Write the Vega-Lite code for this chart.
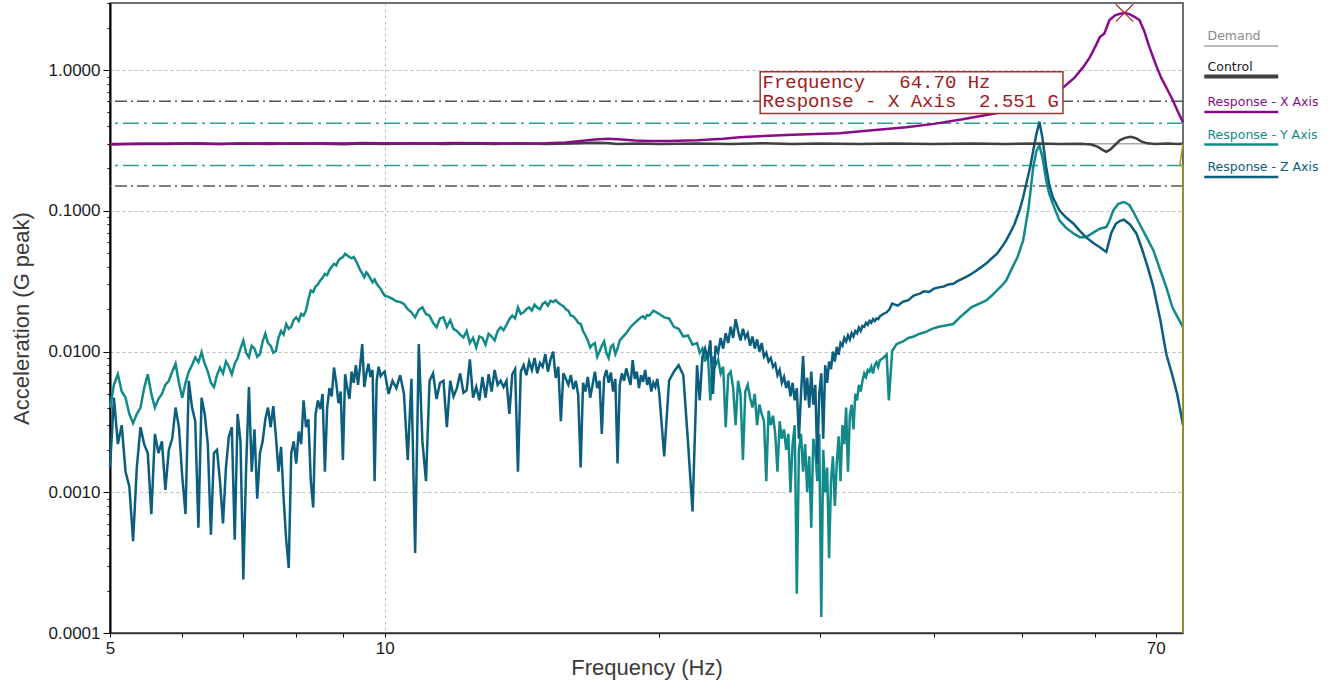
{
  "$schema": "https://vega.github.io/schema/vega-lite/v6.json",
  "width": 1073,
  "height": 630,
  "autosize": {"type": "none"},
  "padding": {"left": 110, "top": 3, "right": 155, "bottom": 56},
  "background": "white",
  "config": {
    "view": {"stroke": "#404040", "strokeWidth": 1.5},
    "axis": {
      "labelFont": "Liberation Sans", "titleFont": "Liberation Sans",
      "labelFontSize": 17, "titleFontSize": 22, "titleFontWeight": "normal",
      "labelColor": "#1a1a1a", "titleColor": "#3a3a3a",
      "domainColor": "#000000", "tickColor": "#000000",
      "gridColor": "#bdbdbd", "gridDash": [3, 3], "gridWidth": 1
    }
  },
  "datasets": {
    "limits": [
      {"g": 0.6, "kind": "abort"}, {"g": 0.15, "kind": "abort"},
      {"g": 0.42, "kind": "alarm"}, {"g": 0.21, "kind": "alarm"}
    ],
    "demand": [{"hz": 5, "g": 0.3}, {"hz": 75, "g": 0.3}],
    "control": [
      {"hz":5,"g":0.296},{"hz":5.4,"g":0.3},{"hz":5.8,"g":0.298},{"hz":6.2,"g":0.302},{"hz":6.6,"g":0.299},{"hz":7,"g":0.301},{"hz":7.5,"g":0.298},{"hz":8,"g":0.302},{"hz":8.5,"g":0.3},{"hz":9,"g":0.297},{"hz":9.5,"g":0.301},{"hz":10,"g":0.299},{"hz":10.8,"g":0.302},{"hz":11.6,"g":0.298},{"hz":12.4,"g":0.301},{"hz":13.2,"g":0.299},{"hz":14,"g":0.302},{"hz":15,"g":0.298},{"hz":16,"g":0.301},{"hz":17,"g":0.305},{"hz":17.5,"g":0.303},{"hz":18,"g":0.299},{"hz":19,"g":0.301},{"hz":20,"g":0.298},{"hz":22,"g":0.301},{"hz":24,"g":0.299},{"hz":26,"g":0.302},{"hz":28,"g":0.299},{"hz":30,"g":0.301},{"hz":33,"g":0.298},{"hz":36,"g":0.301},{"hz":40,"g":0.299},{"hz":44,"g":0.301},{"hz":48,"g":0.299},{"hz":52,"g":0.301},{"hz":55,"g":0.299},{"hz":58,"g":0.3},{"hz":59.5,"g":0.296},{"hz":60.5,"g":0.285},{"hz":61.3,"g":0.27},{"hz":61.8,"g":0.263},{"hz":62.4,"g":0.272},{"hz":63.2,"g":0.295},{"hz":64,"g":0.318},{"hz":64.8,"g":0.33},{"hz":65.7,"g":0.336},{"hz":66.6,"g":0.328},{"hz":67.5,"g":0.312},{"hz":68.5,"g":0.302},{"hz":70,"g":0.299},{"hz":72,"g":0.301},{"hz":74,"g":0.299},{"hz":75,"g":0.3}
    ],
    "respX": [
      {"hz":5,"g":0.298},{"hz":5.5,"g":0.3},{"hz":6,"g":0.301},{"hz":6.5,"g":0.299},{"hz":7,"g":0.301},{"hz":7.5,"g":0.302},{"hz":8,"g":0.3},{"hz":8.5,"g":0.302},{"hz":9,"g":0.301},{"hz":9.5,"g":0.303},{"hz":10,"g":0.302},{"hz":11,"g":0.301},{"hz":12,"g":0.303},{"hz":13,"g":0.302},{"hz":14,"g":0.301},{"hz":15,"g":0.302},{"hz":15.8,"g":0.306},{"hz":16.4,"g":0.314},{"hz":17,"g":0.322},{"hz":17.6,"g":0.326},{"hz":18.2,"g":0.322},{"hz":18.8,"g":0.316},{"hz":19.5,"g":0.313},{"hz":20.5,"g":0.314},{"hz":22,"g":0.318},{"hz":23.5,"g":0.325},{"hz":24.5,"g":0.333},{"hz":26,"g":0.34},{"hz":28,"g":0.348},{"hz":31.5,"g":0.356},{"hz":34,"g":0.372},{"hz":37.3,"g":0.393},{"hz":40,"g":0.415},{"hz":43,"g":0.447},{"hz":46.8,"g":0.494},{"hz":49,"g":0.54},{"hz":51,"g":0.59},{"hz":53,"g":0.655},{"hz":55.3,"g":0.745},{"hz":57,"g":0.88},{"hz":58.3,"g":1.05},{"hz":59.3,"g":1.237},{"hz":60.2,"g":1.5},{"hz":60.8,"g":1.717},{"hz":61.5,"g":1.82},{"hz":62.3,"g":2.27},{"hz":63.2,"g":2.45},{"hz":64,"g":2.52},{"hz":64.7,"g":2.551},{"hz":65.5,"g":2.5},{"hz":66.3,"g":2.4},{"hz":67.2,"g":2.27},{"hz":68,"g":1.9},{"hz":68.8,"g":1.5},{"hz":69.5,"g":1.25},{"hz":70.2,"g":1.05},{"hz":71,"g":0.88},{"hz":72,"g":0.74},{"hz":73.1,"g":0.611},{"hz":74,"g":0.51},{"hz":75,"g":0.427}
    ],
    "respY": [
      {"hz":5,"g":0.004},{"hz":5.05,"g":0.0058},{"hz":5.1,"g":0.0069},{"hz":5.15,"g":0.0052},{"hz":5.2,"g":0.0047},{"hz":5.25,"g":0.0036},{"hz":5.3,"g":0.0031},{"hz":5.35,"g":0.0036},{"hz":5.4,"g":0.004},{"hz":5.45,"g":0.0055},{"hz":5.5,"g":0.0069},{"hz":5.55,"g":0.005},{"hz":5.6,"g":0.004},{"hz":5.65,"g":0.0046},{"hz":5.7,"g":0.005},{"hz":5.75,"g":0.0058},{"hz":5.8,"g":0.0062},{"hz":5.85,"g":0.0072},{"hz":5.9,"g":0.0082},{"hz":5.95,"g":0.006},{"hz":6,"g":0.0047},{"hz":6.05,"g":0.006},{"hz":6.1,"g":0.0072},{"hz":6.15,"g":0.008},{"hz":6.2,"g":0.0091},{"hz":6.25,"g":0.0084},{"hz":6.3,"g":0.0099},{"hz":6.35,"g":0.0082},{"hz":6.4,"g":0.0072},{"hz":6.45,"g":0.006},{"hz":6.5,"g":0.0056},{"hz":6.55,"g":0.0068},{"hz":6.6,"g":0.0077},{"hz":6.65,"g":0.007},{"hz":6.7,"g":0.0085},{"hz":6.75,"g":0.0078},{"hz":6.8,"g":0.0069},{"hz":6.85,"g":0.0082},{"hz":6.9,"g":0.009},{"hz":6.95,"g":0.0105},{"hz":7,"g":0.012},{"hz":7.05,"g":0.0098},{"hz":7.1,"g":0.0091},{"hz":7.15,"g":0.011},{"hz":7.2,"g":0.0105},{"hz":7.25,"g":0.0092},{"hz":7.3,"g":0.0096},{"hz":7.35,"g":0.0118},{"hz":7.4,"g":0.0134},{"hz":7.45,"g":0.0115},{"hz":7.5,"g":0.011},{"hz":7.55,"g":0.0098},{"hz":7.6,"g":0.0101},{"hz":7.65,"g":0.0125},{"hz":7.7,"g":0.014},{"hz":7.75,"g":0.0132},{"hz":7.8,"g":0.0157},{"hz":7.85,"g":0.0145},{"hz":7.9,"g":0.015},{"hz":7.95,"g":0.0168},{"hz":8,"g":0.0175},{"hz":8.05,"g":0.0165},{"hz":8.1,"g":0.0185},{"hz":8.15,"g":0.018},{"hz":8.2,"g":0.0196},{"hz":8.25,"g":0.0235},{"hz":8.3,"g":0.0272},{"hz":8.35,"g":0.0265},{"hz":8.4,"g":0.029},{"hz":8.45,"g":0.03},{"hz":8.5,"g":0.032},{"hz":8.55,"g":0.0335},{"hz":8.6,"g":0.0357},{"hz":8.65,"g":0.035},{"hz":8.7,"g":0.038},{"hz":8.75,"g":0.04},{"hz":8.8,"g":0.042},{"hz":8.85,"g":0.041},{"hz":8.9,"g":0.0444},{"hz":8.95,"g":0.046},{"hz":9,"g":0.047},{"hz":9.05,"g":0.0495},{"hz":9.1,"g":0.0482},{"hz":9.15,"g":0.047},{"hz":9.2,"g":0.046},{"hz":9.25,"g":0.047},{"hz":9.3,"g":0.0444},{"hz":9.35,"g":0.041},{"hz":9.4,"g":0.038},{"hz":9.45,"g":0.036},{"hz":9.5,"g":0.0338},{"hz":9.55,"g":0.0365},{"hz":9.6,"g":0.035},{"hz":9.65,"g":0.033},{"hz":9.7,"g":0.031},{"hz":9.75,"g":0.0325},{"hz":9.8,"g":0.0303},{"hz":9.85,"g":0.029},{"hz":9.9,"g":0.028},{"hz":9.95,"g":0.0262},{"hz":10,"g":0.025},
      {"hz":10.1,"g":0.0245},{"hz":10.2,"g":0.0237},{"hz":10.3,"g":0.0228},{"hz":10.4,"g":0.0225},{"hz":10.5,"g":0.0218},{"hz":10.6,"g":0.02},{"hz":10.7,"g":0.019},{"hz":10.8,"g":0.0175},{"hz":10.9,"g":0.0198},{"hz":11,"g":0.0206},{"hz":11.1,"g":0.0185},{"hz":11.2,"g":0.018},{"hz":11.3,"g":0.016},{"hz":11.4,"g":0.0149},{"hz":11.5,"g":0.0172},{"hz":11.6,"g":0.0175},{"hz":11.7,"g":0.015},{"hz":11.8,"g":0.0167},{"hz":11.9,"g":0.0145},{"hz":12,"g":0.014},{"hz":12.1,"g":0.0132},{"hz":12.2,"g":0.0126},{"hz":12.3,"g":0.014},{"hz":12.4,"g":0.0115},{"hz":12.5,"g":0.0125},{"hz":12.6,"g":0.0107},{"hz":12.7,"g":0.0128},{"hz":12.8,"g":0.0125},{"hz":12.9,"g":0.0112},{"hz":13,"g":0.0134},{"hz":13.1,"g":0.0128},{"hz":13.2,"g":0.012},{"hz":13.3,"g":0.014},{"hz":13.4,"g":0.0149},{"hz":13.5,"g":0.0142},{"hz":13.6,"g":0.0155},{"hz":13.7,"g":0.017},{"hz":13.8,"g":0.018},{"hz":13.9,"g":0.0172},{"hz":14,"g":0.0206},{"hz":14.1,"g":0.0185},{"hz":14.2,"g":0.019},{"hz":14.3,"g":0.02},{"hz":14.4,"g":0.0206},{"hz":14.5,"g":0.0196},{"hz":14.6,"g":0.0215},{"hz":14.7,"g":0.0205},{"hz":14.8,"g":0.02},{"hz":14.9,"g":0.0218},{"hz":15,"g":0.0225},{"hz":15.1,"g":0.0212},{"hz":15.2,"g":0.023},{"hz":15.3,"g":0.0225},{"hz":15.4,"g":0.0232},{"hz":15.5,"g":0.0222},{"hz":15.6,"g":0.0215},{"hz":15.7,"g":0.021},{"hz":15.8,"g":0.02},{"hz":15.9,"g":0.0195},{"hz":16,"g":0.018},{"hz":16.1,"g":0.0178},{"hz":16.2,"g":0.017},{"hz":16.3,"g":0.016},{"hz":16.4,"g":0.0157},{"hz":16.5,"g":0.014},{"hz":16.6,"g":0.013},{"hz":16.7,"g":0.012},{"hz":16.8,"g":0.0107},{"hz":16.9,"g":0.0112},{"hz":17,"g":0.0115},{"hz":17.1,"g":0.0092},{"hz":17.2,"g":0.01},{"hz":17.3,"g":0.011},{"hz":17.4,"g":0.0118},{"hz":17.5,"g":0.0098},{"hz":17.6,"g":0.009},{"hz":17.7,"g":0.0108},{"hz":17.8,"g":0.0112},{"hz":17.9,"g":0.0096},{"hz":18,"g":0.0105},{"hz":18.1,"g":0.012},{"hz":18.2,"g":0.0125},{"hz":18.3,"g":0.013},{"hz":18.4,"g":0.0135},{"hz":18.5,"g":0.0142},{"hz":18.6,"g":0.0149},{"hz":18.7,"g":0.0155},{"hz":18.8,"g":0.016},{"hz":18.9,"g":0.0165},{"hz":19,"g":0.017},{"hz":19.1,"g":0.0175},{"hz":19.2,"g":0.0178},{"hz":19.3,"g":0.0172},{"hz":19.4,"g":0.0182},{"hz":19.5,"g":0.018},{"hz":19.6,"g":0.0187},{"hz":19.7,"g":0.0195},{"hz":19.8,"g":0.0192},{"hz":19.9,"g":0.0188},{"hz":20,"g":0.0185},
      {"hz":20.25,"g":0.0175},{"hz":20.5,"g":0.0172},{"hz":20.75,"g":0.015},{"hz":21,"g":0.0145},{"hz":21.25,"g":0.0128},{"hz":21.5,"g":0.013},{"hz":21.75,"g":0.0112},
      {"hz":22,"g":0.0115},{"hz":22.15,"g":0.0098},{"hz":22.3,"g":0.0105},{"hz":22.45,"g":0.0085},{"hz":22.6,"g":0.01},{"hz":22.75,"g":0.0045},{"hz":22.9,"g":0.0092},{"hz":23.05,"g":0.008},{"hz":23.2,"g":0.0088},{"hz":23.35,"g":0.007},{"hz":23.5,"g":0.0078},{"hz":23.65,"g":0.0029},{"hz":23.8,"g":0.0068},{"hz":23.95,"g":0.0072},{"hz":24.1,"g":0.0055},{"hz":24.25,"g":0.003},{"hz":24.4,"g":0.0062},{"hz":24.55,"g":0.005},{"hz":24.7,"g":0.0017},{"hz":24.85,"g":0.0052},{"hz":25,"g":0.0058},{"hz":25.15,"g":0.0047},{"hz":25.3,"g":0.004},{"hz":25.45,"g":0.005},{"hz":25.6,"g":0.003},{"hz":25.75,"g":0.0042},{"hz":25.9,"g":0.0036},{"hz":26.05,"g":0.0032},{"hz":26.2,"g":0.0012},{"hz":26.35,"g":0.0038},{"hz":26.5,"g":0.003},{"hz":26.65,"g":0.0035},{"hz":26.8,"g":0.0026},{"hz":26.95,"g":0.0014},{"hz":27.1,"g":0.0032},{"hz":27.25,"g":0.0024},{"hz":27.4,"g":0.0028},{"hz":27.55,"g":0.002},{"hz":27.7,"g":0.0026},{"hz":27.85,"g":0.001},{"hz":28,"g":0.0022},{"hz":28.15,"g":0.003},{"hz":28.3,"g":0.00019},{"hz":28.45,"g":0.002},{"hz":28.6,"g":0.0026},{"hz":28.75,"g":0.0014},{"hz":28.9,"g":0.0022},{"hz":29.05,"g":0.001},{"hz":29.2,"g":0.0018},{"hz":29.35,"g":0.00056},{"hz":29.5,"g":0.0024},{"hz":29.65,"g":0.002},{"hz":29.8,"g":0.0012},{"hz":29.95,"g":0.0026},{"hz":30.1,"g":0.00013},{"hz":30.25,"g":0.002},{"hz":30.4,"g":0.001},{"hz":30.55,"g":0.0015},{"hz":30.7,"g":0.00034},{"hz":30.85,"g":0.0012},{"hz":31,"g":0.0018},{"hz":31.15,"g":0.0008},{"hz":31.3,"g":0.0016},{"hz":31.45,"g":0.0025},{"hz":31.6,"g":0.0012},{"hz":31.75,"g":0.003},{"hz":31.9,"g":0.0022},{"hz":32.05,"g":0.004},{"hz":32.2,"g":0.0014},{"hz":32.35,"g":0.0035},{"hz":32.5,"g":0.0042},{"hz":32.65,"g":0.0028},{"hz":32.8,"g":0.005},{"hz":32.95,"g":0.0045},{"hz":33.1,"g":0.0058},{"hz":33.25,"g":0.0052},{"hz":33.4,"g":0.0062},{"hz":33.55,"g":0.007},{"hz":33.7,"g":0.0066},{"hz":33.85,"g":0.0074},{"hz":34,"g":0.0072},{"hz":34.15,"g":0.0078},{"hz":34.3,"g":0.007},{"hz":34.45,"g":0.008},{"hz":34.6,"g":0.0084},{"hz":34.75,"g":0.0078},{"hz":34.9,"g":0.0087},{"hz":35.2,"g":0.009},{"hz":35.5,"g":0.0095},{"hz":35.7,"g":0.0045},{"hz":36,"g":0.0101},
      {"hz":36.4,"g":0.0113},{"hz":37,"g":0.0118},{"hz":37.5,"g":0.0125},{"hz":38,"g":0.0128},{"hz":38.6,"g":0.0134},{"hz":39.2,"g":0.0138},{"hz":39.8,"g":0.0145},{"hz":40.5,"g":0.015},{"hz":41.2,"g":0.0153},{"hz":42,"g":0.0157},{"hz":42.7,"g":0.0175},{"hz":43.4,"g":0.0192},{"hz":44,"g":0.0207},{"hz":44.8,"g":0.0218},{"hz":45.6,"g":0.023},{"hz":46.3,"g":0.025},{"hz":46.9,"g":0.0272},{"hz":47.5,"g":0.0295},{"hz":48,"g":0.032},{"hz":48.7,"g":0.039},{"hz":49.4,"g":0.047},{"hz":50.1,"g":0.0617},{"hz":50.8,"g":0.106},{"hz":51.4,"g":0.205},{"hz":51.8,"g":0.265},{"hz":52.2,"g":0.292},{"hz":52.6,"g":0.24},{"hz":53.1,"g":0.165},{"hz":53.5,"g":0.133},{"hz":54,"g":0.112},{"hz":54.9,"g":0.0856},{"hz":55.8,"g":0.076},{"hz":56.9,"g":0.069},{"hz":57.8,"g":0.065},{"hz":58.7,"g":0.065},{"hz":59.8,"g":0.07},{"hz":60.8,"g":0.0746},{"hz":61.8,"g":0.0767},{"hz":62.3,"g":0.085},{"hz":62.9,"g":0.101},{"hz":63.7,"g":0.112},{"hz":64.6,"g":0.1156},{"hz":65.5,"g":0.11},{"hz":66.2,"g":0.098},{"hz":67.2,"g":0.081},{"hz":68.4,"g":0.065},{"hz":69.6,"g":0.0523},{"hz":70.8,"g":0.038},{"hz":71.9,"g":0.0287},{"hz":73,"g":0.0207},{"hz":74,"g":0.0175},{"hz":75,"g":0.0149}
    ],
    "respZ": [
      {"hz":5,"g":0.0015},{"hz":5.05,"g":0.0047},{"hz":5.1,"g":0.0022},{"hz":5.15,"g":0.003},{"hz":5.2,"g":0.0014},{"hz":5.25,"g":0.0011},{"hz":5.3,"g":0.00045},{"hz":5.35,"g":0.0015},{"hz":5.4,"g":0.0029},{"hz":5.45,"g":0.0022},{"hz":5.5,"g":0.0019},{"hz":5.55,"g":0.0007},{"hz":5.6,"g":0.0026},{"hz":5.65,"g":0.0019},{"hz":5.7,"g":0.0023},{"hz":5.75,"g":0.00104},{"hz":5.8,"g":0.002},{"hz":5.85,"g":0.0024},{"hz":5.9,"g":0.004},{"hz":5.95,"g":0.0029},{"hz":6,"g":0.0013},{"hz":6.05,"g":0.0007},{"hz":6.1,"g":0.0062},{"hz":6.15,"g":0.004},{"hz":6.2,"g":0.0032},{"hz":6.25,"g":0.00056},{"hz":6.3,"g":0.0047},{"hz":6.35,"g":0.0036},{"hz":6.4,"g":0.0022},{"hz":6.45,"g":0.0005},{"hz":6.5,"g":0.0019},{"hz":6.55,"g":0.002},{"hz":6.6,"g":0.0012},{"hz":6.65,"g":0.0006},{"hz":6.7,"g":0.0015},{"hz":6.75,"g":0.0025},{"hz":6.8,"g":0.0029},{"hz":6.85,"g":0.00046},{"hz":6.9,"g":0.0036},{"hz":6.95,"g":0.0023},{"hz":7,"g":0.00024},{"hz":7.05,"g":0.0015},{"hz":7.1,"g":0.0056},{"hz":7.15,"g":0.0014},{"hz":7.2,"g":0.0028},{"hz":7.25,"g":0.0009},{"hz":7.3,"g":0.0019},{"hz":7.35,"g":0.0023},{"hz":7.4,"g":0.0033},{"hz":7.45,"g":0.004},{"hz":7.5,"g":0.0029},{"hz":7.55,"g":0.0041},{"hz":7.6,"g":0.0025},{"hz":7.65,"g":0.0014},{"hz":7.7,"g":0.0021},{"hz":7.75,"g":0.0009},{"hz":7.8,"g":0.00046},{"hz":7.85,"g":0.00029},{"hz":7.9,"g":0.0019},{"hz":7.95,"g":0.0023},{"hz":8,"g":0.0016},{"hz":8.05,"g":0.0027},{"hz":8.1,"g":0.0022},{"hz":8.15,"g":0.0045},{"hz":8.2,"g":0.0029},{"hz":8.25,"g":0.0033},{"hz":8.3,"g":0.0012},{"hz":8.35,"g":0.00078},{"hz":8.4,"g":0.0036},{"hz":8.45,"g":0.0045},{"hz":8.5,"g":0.0039},{"hz":8.55,"g":0.005},{"hz":8.6,"g":0.0014},{"hz":8.65,"g":0.004},{"hz":8.7,"g":0.0055},{"hz":8.75,"g":0.0048},{"hz":8.8,"g":0.0077},{"hz":8.85,"g":0.006},{"hz":8.9,"g":0.0043},{"hz":8.95,"g":0.0052},{"hz":9,"g":0.0017},{"hz":9.05,"g":0.0069},{"hz":9.1,"g":0.0055},{"hz":9.15,"g":0.0046},{"hz":9.2,"g":0.0072},{"hz":9.25,"g":0.006},{"hz":9.3,"g":0.008},{"hz":9.35,"g":0.0058},{"hz":9.4,"g":0.0079},{"hz":9.45,"g":0.0113},{"hz":9.5,"g":0.0056},{"hz":9.55,"g":0.007},{"hz":9.6,"g":0.0082},{"hz":9.65,"g":0.0066},{"hz":9.7,"g":0.0074},{"hz":9.75,"g":0.0012},{"hz":9.8,"g":0.0062},{"hz":9.85,"g":0.0078},{"hz":9.9,"g":0.0067},{"hz":9.95,"g":0.007},{"hz":10,"g":0.0072},
      {"hz":10.1,"g":0.005},{"hz":10.2,"g":0.0062},{"hz":10.3,"g":0.0055},{"hz":10.4,"g":0.0068},{"hz":10.5,"g":0.005},{"hz":10.6,"g":0.0017},{"hz":10.7,"g":0.0064},{"hz":10.8,"g":0.00037},{"hz":10.9,"g":0.0113},{"hz":11,"g":0.0023},{"hz":11.1,"g":0.0012},{"hz":11.2,"g":0.0062},{"hz":11.3,"g":0.007},{"hz":11.4,"g":0.0046},{"hz":11.5,"g":0.006},{"hz":11.6,"g":0.0062},{"hz":11.7,"g":0.0029},{"hz":11.8,"g":0.0062},{"hz":11.9,"g":0.0048},{"hz":12,"g":0.0055},{"hz":12.1,"g":0.007},{"hz":12.2,"g":0.0051},{"hz":12.3,"g":0.0053},{"hz":12.4,"g":0.0088},{"hz":12.5,"g":0.0047},{"hz":12.6,"g":0.0056},{"hz":12.7,"g":0.0045},{"hz":12.8,"g":0.0066},{"hz":12.9,"g":0.0047},{"hz":13,"g":0.0069},{"hz":13.1,"g":0.0052},{"hz":13.2,"g":0.0074},{"hz":13.3,"g":0.0058},{"hz":13.4,"g":0.0062},
      {"hz":13.5,"g":0.0056},{"hz":13.6,"g":0.0062},{"hz":13.7,"g":0.0036},{"hz":13.8,"g":0.0069},{"hz":13.9,"g":0.0075},{"hz":14,"g":0.0014},{"hz":14.1,"g":0.0072},{"hz":14.2,"g":0.008},{"hz":14.3,"g":0.0068},{"hz":14.4,"g":0.0085},{"hz":14.5,"g":0.0074},{"hz":14.6,"g":0.009},{"hz":14.7,"g":0.007},{"hz":14.8,"g":0.0083},{"hz":14.9,"g":0.0078},{"hz":15,"g":0.0096},{"hz":15.1,"g":0.0072},{"hz":15.2,"g":0.0088},{"hz":15.3,"g":0.01},{"hz":15.4,"g":0.0065},{"hz":15.5,"g":0.0078},{"hz":15.6,"g":0.0032},{"hz":15.7,"g":0.007},{"hz":15.8,"g":0.0064},{"hz":15.9,"g":0.0058},{"hz":16,"g":0.0068},{"hz":16.1,"g":0.0054},{"hz":16.2,"g":0.0062},{"hz":16.3,"g":0.0049},{"hz":16.4,"g":0.0015},{"hz":16.5,"g":0.006},{"hz":16.6,"g":0.0052},{"hz":16.7,"g":0.0066},{"hz":16.8,"g":0.0047},{"hz":16.9,"g":0.0058},{"hz":17,"g":0.0072},{"hz":17.1,"g":0.0055},{"hz":17.2,"g":0.0062},{"hz":17.3,"g":0.0026},{"hz":17.4,"g":0.0065},{"hz":17.5,"g":0.0074},{"hz":17.6,"g":0.006},{"hz":17.7,"g":0.0071},{"hz":17.8,"g":0.0052},{"hz":17.9,"g":0.0064},{"hz":18,"g":0.0016},{"hz":18.1,"g":0.0058},{"hz":18.2,"g":0.007},{"hz":18.3,"g":0.0062},{"hz":18.4,"g":0.0076},{"hz":18.5,"g":0.0066},{"hz":18.6,"g":0.0058},{"hz":18.7,"g":0.0087},{"hz":18.8,"g":0.0064},{"hz":18.9,"g":0.0072},{"hz":19,"g":0.0055},{"hz":19.1,"g":0.0068},{"hz":19.2,"g":0.0061},{"hz":19.3,"g":0.0074},{"hz":19.4,"g":0.0058},{"hz":19.5,"g":0.0066},{"hz":19.6,"g":0.0052},{"hz":19.7,"g":0.006},{"hz":19.8,"g":0.0056},{"hz":19.9,"g":0.0064},{"hz":20,"g":0.005},
      {"hz":20.25,"g":0.0018},{"hz":20.5,"g":0.0062},{"hz":20.75,"g":0.0072},{"hz":21,"g":0.008},{"hz":21.25,"g":0.0068},{"hz":21.5,"g":0.0023},{"hz":21.75,"g":0.00073},
      {"hz":22,"g":0.008},{"hz":22.15,"g":0.0045},{"hz":22.3,"g":0.0092},{"hz":22.45,"g":0.0105},{"hz":22.6,"g":0.0088},{"hz":22.75,"g":0.012},{"hz":22.9,"g":0.005},{"hz":23.05,"g":0.011},{"hz":23.2,"g":0.0098},{"hz":23.35,"g":0.0125},{"hz":23.5,"g":0.0105},{"hz":23.65,"g":0.0135},{"hz":23.8,"g":0.0115},{"hz":23.95,"g":0.015},{"hz":24.1,"g":0.0125},{"hz":24.25,"g":0.017},{"hz":24.4,"g":0.014},{"hz":24.55,"g":0.012},{"hz":24.7,"g":0.0145},{"hz":24.85,"g":0.0125},{"hz":25,"g":0.0135},{"hz":25.15,"g":0.011},{"hz":25.3,"g":0.0128},{"hz":25.45,"g":0.0105},{"hz":25.6,"g":0.0122},{"hz":25.75,"g":0.01},{"hz":25.9,"g":0.0115},{"hz":26.05,"g":0.0092},{"hz":26.2,"g":0.0098},{"hz":26.35,"g":0.0085},{"hz":26.5,"g":0.009},{"hz":26.65,"g":0.0078},{"hz":26.8,"g":0.0082},{"hz":26.95,"g":0.0068},{"hz":27.1,"g":0.0074},{"hz":27.25,"g":0.006},{"hz":27.4,"g":0.0066},{"hz":27.55,"g":0.0055},{"hz":27.7,"g":0.0062},{"hz":27.85,"g":0.0048},{"hz":28,"g":0.006},{"hz":28.15,"g":0.0045},{"hz":28.3,"g":0.0055},{"hz":28.45,"g":0.0024},{"hz":28.6,"g":0.005},{"hz":28.75,"g":0.0093},{"hz":28.9,"g":0.0045},{"hz":29.05,"g":0.0065},{"hz":29.2,"g":0.004},{"hz":29.35,"g":0.0072},{"hz":29.5,"g":0.0042},{"hz":29.65,"g":0.0058},{"hz":29.8,"g":0.0016},{"hz":29.95,"g":0.005},{"hz":30.1,"g":0.007},{"hz":30.25,"g":0.0024},{"hz":30.4,"g":0.008},{"hz":30.55,"g":0.006},{"hz":30.7,"g":0.0085},{"hz":30.85,"g":0.0075},{"hz":31,"g":0.01},{"hz":31.15,"g":0.0085},{"hz":31.3,"g":0.0108},{"hz":31.45,"g":0.0095},{"hz":31.6,"g":0.0115},{"hz":31.75,"g":0.011},{"hz":31.9,"g":0.0125},{"hz":32.05,"g":0.0118},{"hz":32.2,"g":0.013},{"hz":32.35,"g":0.0122},{"hz":32.5,"g":0.0135},{"hz":32.65,"g":0.0128},{"hz":32.8,"g":0.014},{"hz":32.95,"g":0.0135},{"hz":33.1,"g":0.0148},{"hz":33.25,"g":0.014},{"hz":33.4,"g":0.0152},{"hz":33.55,"g":0.015},{"hz":33.7,"g":0.016},{"hz":33.85,"g":0.0155},{"hz":34,"g":0.0165},{"hz":34.15,"g":0.016},{"hz":34.3,"g":0.017},{"hz":34.45,"g":0.0165},{"hz":34.6,"g":0.0172},{"hz":34.75,"g":0.017},{"hz":34.9,"g":0.0178},{"hz":35.2,"g":0.0185},{"hz":35.5,"g":0.019},{"hz":35.75,"g":0.02},{"hz":36,"g":0.0219},
      {"hz":36.5,"g":0.0212},{"hz":37,"g":0.0226},{"hz":37.5,"g":0.0232},{"hz":38,"g":0.025},{"hz":38.6,"g":0.0258},{"hz":39,"g":0.0268},{"hz":39.5,"g":0.0265},{"hz":40,"g":0.028},{"hz":40.5,"g":0.0286},{"hz":41,"g":0.029},{"hz":41.5,"g":0.03},{"hz":42,"g":0.0303},{"hz":42.5,"g":0.0318},{"hz":43,"g":0.033},{"hz":43.5,"g":0.0342},{"hz":44,"g":0.0357},{"hz":44.5,"g":0.0375},{"hz":45,"g":0.0395},{"hz":45.6,"g":0.042},{"hz":46.2,"g":0.0455},{"hz":46.9,"g":0.0496},{"hz":47.5,"g":0.0555},{"hz":48,"g":0.0617},{"hz":48.5,"g":0.07},{"hz":49,"g":0.08},{"hz":49.65,"g":0.101},{"hz":50.1,"g":0.125},{"hz":50.5,"g":0.156},{"hz":51,"g":0.205},{"hz":51.4,"g":0.27},{"hz":51.8,"g":0.35},{"hz":52.2,"g":0.43},{"hz":52.6,"g":0.33},{"hz":53.1,"g":0.205},{"hz":53.5,"g":0.155},{"hz":54,"g":0.125},{"hz":54.9,"g":0.101},{"hz":55.8,"g":0.09},{"hz":56.9,"g":0.081},{"hz":57.8,"g":0.072},{"hz":58.7,"g":0.065},{"hz":59.8,"g":0.059},{"hz":60.8,"g":0.0552},{"hz":61.8,"g":0.051},{"hz":62.2,"g":0.06},{"hz":62.6,"g":0.07},{"hz":63.3,"g":0.081},{"hz":64,"g":0.085},{"hz":64.6,"g":0.0865},{"hz":65.6,"g":0.08},{"hz":66.7,"g":0.0688},{"hz":67.6,"g":0.054},{"hz":68.6,"g":0.04},{"hz":69.6,"g":0.0287},{"hz":70.8,"g":0.017},{"hz":71.9,"g":0.0096},{"hz":73,"g":0.0068},{"hz":73.9,"g":0.005},{"hz":74.5,"g":0.0038},{"hz":75,"g":0.003}
    ],
    "edge": [
      {"hz": 75, "g": 0.3, "i": 1}, {"hz": 74.4, "g": 0.21, "i": 2},
      {"hz": 75, "g": 0.21, "i": 3}, {"hz": 75, "g": 0.0001, "i": 4}
    ],
    "peak": [{"hz": 64.7, "g": 2.551}]
  },
  "layer": [
    {
      "data": {"name": "limits"},
      "transform": [{"filter": "datum.kind == 'abort'"}],
      "mark": {"type": "rule", "color": "#555555", "strokeWidth": 1.5, "strokeDash": [12, 4, 2, 4]},
      "encoding": {"y": {"field": "g", "type": "quantitative", "scale": {"type": "log"}}}
    },
    {
      "data": {"name": "limits"},
      "transform": [{"filter": "datum.kind == 'alarm'"}],
      "mark": {"type": "rule", "color": "#2f9c9c", "strokeWidth": 1.5, "strokeDash": [16, 5, 3, 5]},
      "encoding": {"y": {"field": "g", "type": "quantitative", "scale": {"type": "log"}}}
    },
    {
      "data": {"name": "demand"},
      "mark": {"type": "line"},
      "encoding": {
        "x": {
          "field": "hz", "type": "quantitative", "title": "Frequency (Hz)",
          "scale": {"type": "log", "domain": [5, 75], "nice": false},
          "axis": {
            "values": [5, 6, 7, 8, 9, 10, 20, 30, 40, 50, 60, 70],
            "labelExpr": "datum.value == 5 || datum.value == 10 || datum.value == 70 ? format(datum.value, 'd') : ''",
            "tickSize": 4, "labelPadding": 3, "labelFlush": false, "labelOverlap": false,
            "grid": true,
            "gridOpacity": {"condition": {"test": "datum.value == 10", "value": 1}, "value": 0},
            "domainWidth": 1.5, "domainColor": "#333333", "titlePadding": 1
          }
        },
        "y": {
          "field": "g", "type": "quantitative", "title": "Acceleration (G peak)",
          "scale": {"type": "log", "domain": [0.0001, 3], "nice": false},
          "axis": {
            "values": [0.0001,0.0002,0.0003,0.0004,0.0005,0.0006,0.0007,0.0008,0.0009,0.001,0.002,0.003,0.004,0.005,0.006,0.007,0.008,0.009,0.01,0.02,0.03,0.04,0.05,0.06,0.07,0.08,0.09,0.1,0.2,0.3,0.4,0.5,0.6,0.7,0.8,0.9,1,2,3],
            "labelExpr": "datum.value == 0.0001 || datum.value == 0.001 || datum.value == 0.01 || datum.value == 0.1 || datum.value == 1 ? format(datum.value, '.4f') : ''",
            "tickSize": {"condition": {"test": "datum.value == 0.0001 || datum.value == 0.001 || datum.value == 0.01 || datum.value == 0.1 || datum.value == 1", "value": 7}, "value": 3},
            "labelPadding": 3, "labelOverlap": false,
            "grid": true,
            "gridOpacity": {"condition": {"test": "datum.value == 0.001 || datum.value == 0.01 || datum.value == 0.1 || datum.value == 1", "value": 1}, "value": 0},
            "domainWidth": 2, "titlePadding": 15
          }
        },
        "color": {
          "datum": "Demand", "type": "nominal",
          "scale": {
            "domain": ["Demand", "Control", "Response - X Axis", "Response - Y Axis", "Response - Z Axis"],
            "range": ["#a6a6a6", "#404040", "#8a0b8a", "#128a8a", "#0b5e7e"]
          },
          "legend": {
            "title": null, "orient": "none", "legendX": 1090, "legendY": 27, "padding": 0,
            "symbolType": "M-1,4.85L36,4.85", "symbolSize": 16,
            "symbolStrokeWidth": {"expr": "datum.value == 'Control' ? 4 : datum.value == 'Demand' ? 1.5 : 2.5"},
            "labelFont": "DejaVu Sans", "labelFontSize": 12.5, "labelOffset": -5,
            "rowPadding": 11.5, "labelLimit": 200,
            "labelColor": {"expr": "datum.value == 'Demand' ? '#8a8a8a' : datum.value == 'Control' ? '#202020' : datum.value == 'Response - X Axis' ? '#8a0b8a' : datum.value == 'Response - Y Axis' ? '#128a8a' : '#0b5e7e'"}
          }
        },
        "strokeWidth": {
          "datum": "Demand", "type": "ordinal", "legend": null,
          "scale": {
            "type": "ordinal",
            "domain": ["Demand", "Control", "Response - X Axis", "Response - Y Axis", "Response - Z Axis"],
            "range": [1.5, 4.5, 2.5, 2.2, 2.2]
          }
        }
      }
    },
    {
      "data": {"name": "respY"},
      "mark": {"type": "line"},
      "encoding": {
        "x": {"field": "hz", "type": "quantitative", "scale": {"type": "log"}},
        "y": {"field": "g", "type": "quantitative", "scale": {"type": "log"}},
        "color": {"datum": "Response - Y Axis", "type": "nominal"},
        "strokeWidth": {"datum": "Response - Y Axis", "type": "ordinal", "legend": null}
      }
    },
    {
      "data": {"name": "respZ"},
      "mark": {"type": "line"},
      "encoding": {
        "x": {"field": "hz", "type": "quantitative", "scale": {"type": "log"}},
        "y": {"field": "g", "type": "quantitative", "scale": {"type": "log"}},
        "color": {"datum": "Response - Z Axis", "type": "nominal"},
        "strokeWidth": {"datum": "Response - Z Axis", "type": "ordinal", "legend": null}
      }
    },
    {
      "data": {"name": "control"},
      "mark": {"type": "line"},
      "encoding": {
        "x": {"field": "hz", "type": "quantitative", "scale": {"type": "log"}},
        "y": {"field": "g", "type": "quantitative", "scale": {"type": "log"}},
        "color": {"datum": "Control", "type": "nominal"},
        "strokeWidth": {"datum": "Control", "type": "ordinal", "legend": null}
      }
    },
    {
      "data": {"name": "respX"},
      "mark": {"type": "line"},
      "encoding": {
        "x": {"field": "hz", "type": "quantitative", "scale": {"type": "log"}},
        "y": {"field": "g", "type": "quantitative", "scale": {"type": "log"}},
        "color": {"datum": "Response - X Axis", "type": "nominal"},
        "strokeWidth": {"datum": "Response - X Axis", "type": "ordinal", "legend": null}
      }
    },
    {
      "data": {"name": "edge"},
      "mark": {"type": "line", "color": "#a29b12", "strokeWidth": 1.5},
      "encoding": {
        "x": {"field": "hz", "type": "quantitative", "scale": {"type": "log"}},
        "y": {"field": "g", "type": "quantitative", "scale": {"type": "log"}},
        "order": {"field": "i", "type": "quantitative"}
      }
    },
    {
      "data": {"values": [{}]},
      "mark": {"type": "rect", "fill": "white", "stroke": "#a03434", "strokeWidth": 1.5},
      "encoding": {
        "x": {"datum": 25.8, "type": "quantitative", "scale": {"type": "log"}},
        "x2": {"datum": 55.4},
        "y": {"datum": 0.9725, "type": "quantitative", "scale": {"type": "log"}},
        "y2": {"datum": 0.4918}
      }
    },
    {
      "data": {"values": [{}]},
      "mark": {"type": "text", "align": "left", "baseline": "alphabetic", "font": "Liberation Mono", "fontSize": 19, "lineHeight": 19, "color": "#a01a1a"},
      "encoding": {
        "x": {"datum": 25.95, "type": "quantitative", "scale": {"type": "log"}},
        "y": {"datum": 0.7466, "type": "quantitative", "scale": {"type": "log"}},
        "text": {"value": ["Frequency\u00a0\u00a0\u00a064.70\u00a0Hz", "Response\u00a0-\u00a0X\u00a0Axis\u00a0\u00a02.551\u00a0G"]}
      }
    },
    {
      "data": {"name": "peak"},
      "mark": {"type": "point", "shape": "M-1,-1L1,1M1,-1L-1,1", "size": 300, "stroke": "#b02a2a", "strokeWidth": 1.2, "filled": false, "opacity": 1},
      "encoding": {
        "x": {"field": "hz", "type": "quantitative", "scale": {"type": "log"}},
        "y": {"field": "g", "type": "quantitative", "scale": {"type": "log"}}
      }
    }
  ]
}
